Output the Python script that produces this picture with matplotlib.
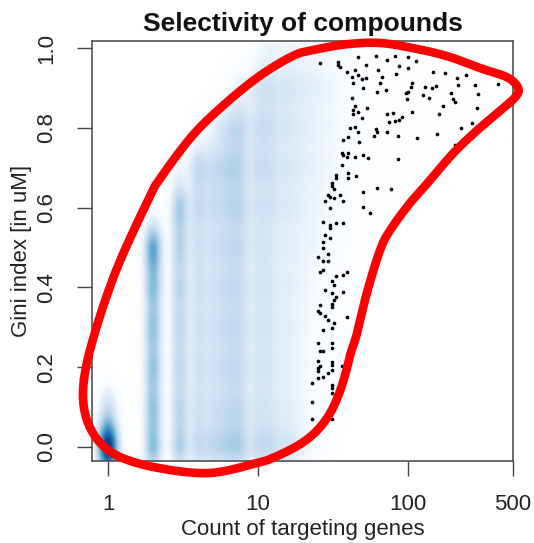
import numpy as np
import matplotlib
matplotlib.use("Agg")
import matplotlib.pyplot as plt
from matplotlib.colors import LinearSegmentedColormap
from matplotlib.ticker import NullLocator

plt.rcParams['font.family'] = ['Liberation Sans', 'DejaVu Sans']

# compounds plotted as single dots (count of targeting genes, gini index)
pt_count = [26, 34, 34, 35, 46, 61, 82, 100, 113, 72, 52, 63, 87, 100, 39, 44, 42, 46, 49, 52,
            43, 50, 67, 65, 62, 71, 83, 106, 105, 100, 97, 98, 130, 147, 176, 145, 154, 126, 138, 212,
            215, 244, 194, 200, 206, 280, 293, 398, 288, 267, 275, 226, 206, 171, 161, 156, 115, 106, 42, 44,
            43, 46, 43, 49, 53, 72, 79, 74, 82, 87, 91, 41, 44, 40, 46, 37, 47, 61, 62, 59,
            72, 85, 36, 37, 39, 40, 44, 50, 54, 86, 36, 33, 33, 40, 40, 45, 31, 31, 32, 29,
            30, 28, 32, 35, 37, 50, 62, 77, 30, 50, 56,
            27, 30, 30, 33, 37, 28, 30, 27, 27, 29, 25, 27, 29, 26, 27, 33, 39, 37, 31, 32,
            28, 31, 37, 33, 32, 31, 31, 26, 25, 26, 28, 39, 29, 32, 31, 27, 25, 31, 26, 27,
            31, 25, 26, 25, 31, 31, 31, 29, 27, 25, 36, 25, 23, 31, 31, 31, 23, 23, 31]
pt_gini = [0.962, 0.965, 0.957, 0.952, 0.977, 0.98, 0.98, 0.977, 0.967, 0.97, 0.957, 0.945, 0.955, 0.95, 0.94, 0.945, 0.927, 0.932, 0.922, 0.925,
           0.912, 0.90, 0.927, 0.912, 0.89, 0.895, 0.935, 0.912, 0.902, 0.89, 0.887, 0.872, 0.902, 0.94, 0.937, 0.90, 0.905, 0.882, 0.875, 0.925,
           0.907, 0.932, 0.887, 0.872, 0.865, 0.907, 0.885, 0.91, 0.85, 0.812, 0.797, 0.80, 0.757, 0.855, 0.835, 0.784, 0.774, 0.84, 0.875, 0.855,
           0.845, 0.84, 0.835, 0.825, 0.85, 0.835, 0.837, 0.815, 0.817, 0.82, 0.827, 0.80, 0.802, 0.777, 0.79, 0.769, 0.764, 0.797, 0.79, 0.779,
           0.79, 0.779, 0.737, 0.732, 0.727, 0.737, 0.727, 0.732, 0.724, 0.722, 0.707, 0.682, 0.674, 0.687, 0.674, 0.679, 0.662, 0.654, 0.647, 0.632,
           0.627, 0.617, 0.624, 0.632, 0.617, 0.639, 0.649, 0.647, 0.599, 0.602, 0.586,
           0.564, 0.556, 0.549, 0.561, 0.561, 0.531, 0.524, 0.514, 0.499, 0.484, 0.476, 0.466, 0.466, 0.439, 0.444, 0.429, 0.439, 0.431, 0.416, 0.406,
           0.393, 0.386, 0.388, 0.376, 0.368, 0.358, 0.351, 0.356, 0.341, 0.336, 0.328, 0.326, 0.318, 0.311, 0.298, 0.293, 0.261, 0.261, 0.241, 0.241,
           0.248, 0.216, 0.203, 0.19, 0.213, 0.206, 0.193, 0.185, 0.175, 0.173, 0.203, 0.198, 0.16, 0.155, 0.148, 0.135, 0.113, 0.07, 0.07]

# smoothed density of the remaining compounds
dens_count = [1, 2, 3, 4, 5, 6, 7, 8, 10, 12, 15, 19, 24, 30, 38, 50, 80, 130, 220, 400]
dens_gini = [0.0, 0.1, 0.2, 0.3, 0.4, 0.5, 0.6, 0.7, 0.8, 0.9, 1.0]
dens = [
    [0.95, 0.25, 0, 0, 0, 0, 0, 0, 0, 0, 0],
    [0.45, 0.40, 0.40, 0.40, 0.42, 0.55, 0.05, 0, 0, 0, 0],
    [0.36, 0.30, 0.30, 0.30, 0.31, 0.32, 0.38, 0.11, 0, 0, 0],
    [0.28, 0.22, 0.22, 0.22, 0.22, 0.23, 0.25, 0.29, 0.05, 0, 0],
    [0.25, 0.19, 0.19, 0.19, 0.19, 0.19, 0.21, 0.22, 0.11, 0, 0],
    [0.23, 0.18, 0.18, 0.18, 0.18, 0.18, 0.19, 0.21, 0.17, 0.03, 0],
    [0.22, 0.17, 0.17, 0.17, 0.17, 0.17, 0.18, 0.19, 0.18, 0.07, 0],
    [0.21, 0.16, 0.16, 0.16, 0.16, 0.16, 0.18, 0.18, 0.18, 0.11, 0.02],
    [0.24, 0.18, 0.18, 0.18, 0.18, 0.18, 0.19, 0.21, 0.21, 0.18, 0.07],
    [0.23, 0.16, 0.16, 0.16, 0.16, 0.16, 0.18, 0.19, 0.19, 0.19, 0.11],
    [0.21, 0.14, 0.14, 0.14, 0.14, 0.14, 0.16, 0.17, 0.17, 0.18, 0.11],
    [0.14, 0.10, 0.10, 0.10, 0.11, 0.12, 0.13, 0.14, 0.14, 0.15, 0.10],
    [0.06, 0.05, 0.06, 0.06, 0.07, 0.09, 0.10, 0.11, 0.11, 0.12, 0.09],
    [0.03, 0.03, 0.04, 0.05, 0.06, 0.07, 0.08, 0.09, 0.09, 0.10, 0.07],
    [0, 0.01, 0.02, 0.03, 0.03, 0.04, 0.05, 0.06, 0.07, 0.07, 0.06],
    [0, 0, 0, 0.01, 0.01, 0.02, 0.03, 0.03, 0.04, 0.04, 0.03],
    [0, 0, 0, 0, 0, 0.01, 0.015, 0.02, 0.03, 0.03, 0.03],
    [0, 0, 0, 0, 0, 0, 0.01, 0.015, 0.02, 0.02, 0.015],
    [0, 0, 0, 0, 0, 0, 0, 0.01, 0.015, 0.015, 0.01],
    [0, 0, 0, 0, 0, 0, 0, 0, 0.01, 0.01, 0],
]

# hand drawn red outline (count, gini)
outline_count = [0.69, 0.82, 1.15, 1.85, 2.19, 3.63, 6.0, 10.2, 16.9, 23, 39, 65, 108, 182, 302, 457, 541, 517,
                 392, 288, 200, 140, 103, 76, 65, 53, 45.7, 41.7, 38.6, 35.1, 30.7, 25.9, 21.3, 17.1, 12.9, 10.3,
                 4.8, 2.2, 1.2, 0.85, 0.70]
outline_gini = [0.17, 0.29, 0.45, 0.62, 0.67, 0.78, 0.86, 0.93, 0.98, 0.995, 1.01, 1.013, 1.0, 0.98, 0.95, 0.927, 0.90, 0.877,
                0.837, 0.794, 0.737, 0.669, 0.612, 0.544, 0.494, 0.386, 0.286, 0.24, 0.19, 0.14, 0.09, 0.05, 0.02, -0.003, -0.025, -0.038,
                -0.065, -0.053, -0.025, 0.018, 0.085]

blues9 = ["#F7FBFF", "#DEEBF7", "#C6DBEF", "#9ECAE1", "#6BAED6",
          "#4292C6", "#2171B5", "#08519C", "#08306B"]
cmap = LinearSegmentedColormap.from_list("smooth", ["#FFFFFF"] + blues9)

xmin, xmax = 0.78, 500
ymin, ymax = -0.035, 1.018

# density field on a grid (log count, gini)
lx = np.linspace(np.log10(xmin), np.log10(xmax), 430)
gy = np.linspace(ymin, ymax, 430)
LX, GY = np.meshgrid(lx, gy)
cnt = np.array(dens_count)
cl = np.log10(cnt)
gap = np.diff(cl)
gaps = np.minimum(np.r_[gap[0], gap], np.r_[gap, gap[-1]])
sx = np.where(cnt <= 8, np.maximum(0.032 + 0.06 * gaps, 0.045), 0.55 * gaps)
sy = 0.045
field = np.zeros_like(LX)
for i, c in enumerate(cl):
    kx = np.exp(-(LX - c) ** 2 / (2 * sx[i] ** 2))
    for j, g in enumerate(dens_gini):
        w = dens[i][j]
        if w:
            field += w * kx * np.exp(-(GY - g) ** 2 / (2 * sy ** 2))
field = np.clip(field, 0, 1)


def closed_spline(u, v, n=20):
    P = np.c_[u, v]
    m = len(P)
    t = np.linspace(0, 1, n, endpoint=False)[:, None]
    out = []
    for i in range(m):
        p0, p1, p2, p3 = P[i - 1], P[i], P[(i + 1) % m], P[(i + 2) % m]
        out.append(0.5 * (2 * p1 + (-p0 + p2) * t + (2 * p0 - 5 * p1 + 4 * p2 - p3) * t ** 2
                          + (-p0 + 3 * p1 - 3 * p2 + p3) * t ** 3))
    out = np.vstack(out + [out[0][:1]])
    return out[:, 0], out[:, 1]


fig = plt.figure(figsize=(5.34, 5.43), dpi=100)
ax = fig.add_axes([92 / 534, 1 - 461 / 543, 421 / 534, 420 / 543])

ax.pcolormesh(10 ** lx, gy, field, cmap=cmap, vmin=0, vmax=1, shading='gouraud', rasterized=True)
ax.scatter(pt_count, pt_gini, s=7, c='black', linewidths=0, zorder=3)

# outline smoothed in screen-like units (150 px per decade, 399 px per gini unit)
su, sv = closed_spline(np.log10(outline_count) * 150, np.array(outline_gini) * 399)
ax.plot(10 ** (su / 150), sv / 399, color='#FF0000', lw=6.2, clip_on=False,
        solid_joinstyle='round', solid_capstyle='round', zorder=5)

ax.set_xscale('log')
ax.set_xlim(xmin, xmax)
ax.set_ylim(ymin, ymax)
ax.set_xticks([1, 10, 100, 500])
ax.set_xticklabels(['1', '10', '100', '500'])
ax.xaxis.set_minor_locator(NullLocator())
yt = [0.0, 0.2, 0.4, 0.6, 0.8, 1.0]
ax.set_yticks(yt)
ax.set_yticklabels(['%.1f' % v for v in yt], rotation=90, va='center')

for s in ax.spines.values():
    s.set_color('#444444')
    s.set_linewidth(1.1)
ax.tick_params(axis='both', length=11, width=1.0, color='#444444', labelsize=16, labelcolor='#222222')
ax.tick_params(axis='x', pad=13)
ax.tick_params(axis='y', pad=14)

ax.set_xlabel('Count of targeting genes', fontsize=16, color='#222222', labelpad=3)
ax.set_ylabel('Gini index [in uM]', fontsize=16, color='#222222', labelpad=3)
ax.set_title('Selectivity of compounds', fontsize=19, fontweight='bold', color='#111111', pad=7)

fig.savefig('out.png', dpi=100)
